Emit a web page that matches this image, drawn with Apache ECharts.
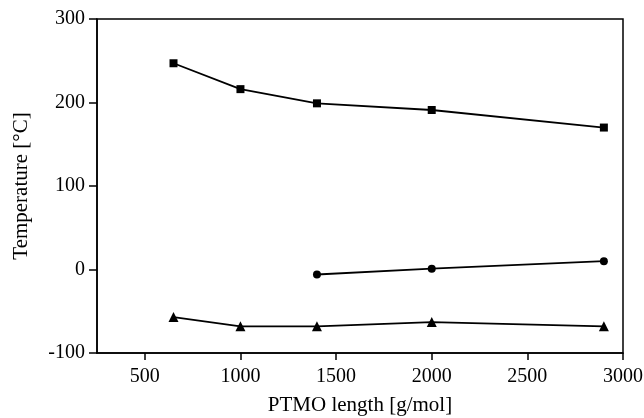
<!DOCTYPE html>
<html>
<head>
<meta charset="utf-8">
<script src="https://cdn.jsdelivr.net/npm/echarts@6/dist/echarts.min.js"></script>
<style>html,body{margin:0;padding:0;background:#fff;}#c{width:644px;height:418px;}</style>
</head>
<body>
<div id="c"></div>
<script>
const squareX = [650, 1000, 1400, 2000, 2900];
const squareY = [247, 216, 199, 191, 170];
const circleX = [1400, 2000, 2900];
const circleY = [-6, 1, 10];
const triangleX = [650, 1000, 1400, 2000, 2900];
const triangleY = [-57, -68, -68, -63, -68];
const xTicks = [500, 1000, 1500, 2000, 2500, 3000];
const yTicks = [-100, 0, 100, 200, 300];

const pairs = (xs, ys) => xs.map((x, i) => [x, ys[i]]);
const font = 'Liberation Serif';
const chart = echarts.init(document.getElementById('c'));
const mk = (name, xs, ys, symbol, size) => ({
  name, type: 'line', data: pairs(xs, ys), symbol, symbolSize: size,
  lineStyle: {color: '#000', width: 1.8}, itemStyle: {color: '#000'},
  animation: false
});
chart.setOption({
  backgroundColor: '#fff',
  animation: false,
  grid: {left: 97, right: 21, top: 19, bottom: 65, show: true, borderColor: '#000', borderWidth: 1.5,
    containLabel: false, outerBoundsMode: 'none'},
  xAxis: {
    type: 'value', min: 250, max: 3000, interval: 250,
    name: 'PTMO length [g/mol]', nameLocation: 'middle', nameGap: 42,
    nameTextStyle: {fontFamily: font, fontSize: 21, color: '#000'},
    axisLine: {show: true, onZero: false, lineStyle: {color: '#000', width: 1.5}},
    axisTick: {show: true, length: 7, inside: false, lineStyle: {color: '#000', width: 1.5},
      customValues: xTicks},
    axisLabel: {fontFamily: font, fontSize: 20, color: '#000', margin: 14,
      customValues: xTicks, formatter: v => String(v)},
    splitLine: {show: false}
  },
  yAxis: {
    type: 'value', min: -100, max: 300, interval: 100,
    name: 'Temperature [°C]', nameLocation: 'middle', nameGap: 65,
    nameTextStyle: {fontFamily: font, fontSize: 21, color: '#000'},
    axisLine: {show: true, lineStyle: {color: '#000', width: 1.5}},
    axisTick: {show: true, length: 8, inside: false, lineStyle: {color: '#000', width: 1.5},
      customValues: yTicks},
    axisLabel: {fontFamily: font, fontSize: 20, color: '#000', margin: 12,
      customValues: yTicks, formatter: v => String(v)},
    splitLine: {show: false}
  },
  series: [
    mk('square', squareX, squareY, 'rect', 8),
    mk('circle', circleX, circleY, 'circle', 8),
    mk('triangle', triangleX, triangleY, 'triangle', 10)
  ]
});
</script>
</body>
</html>
